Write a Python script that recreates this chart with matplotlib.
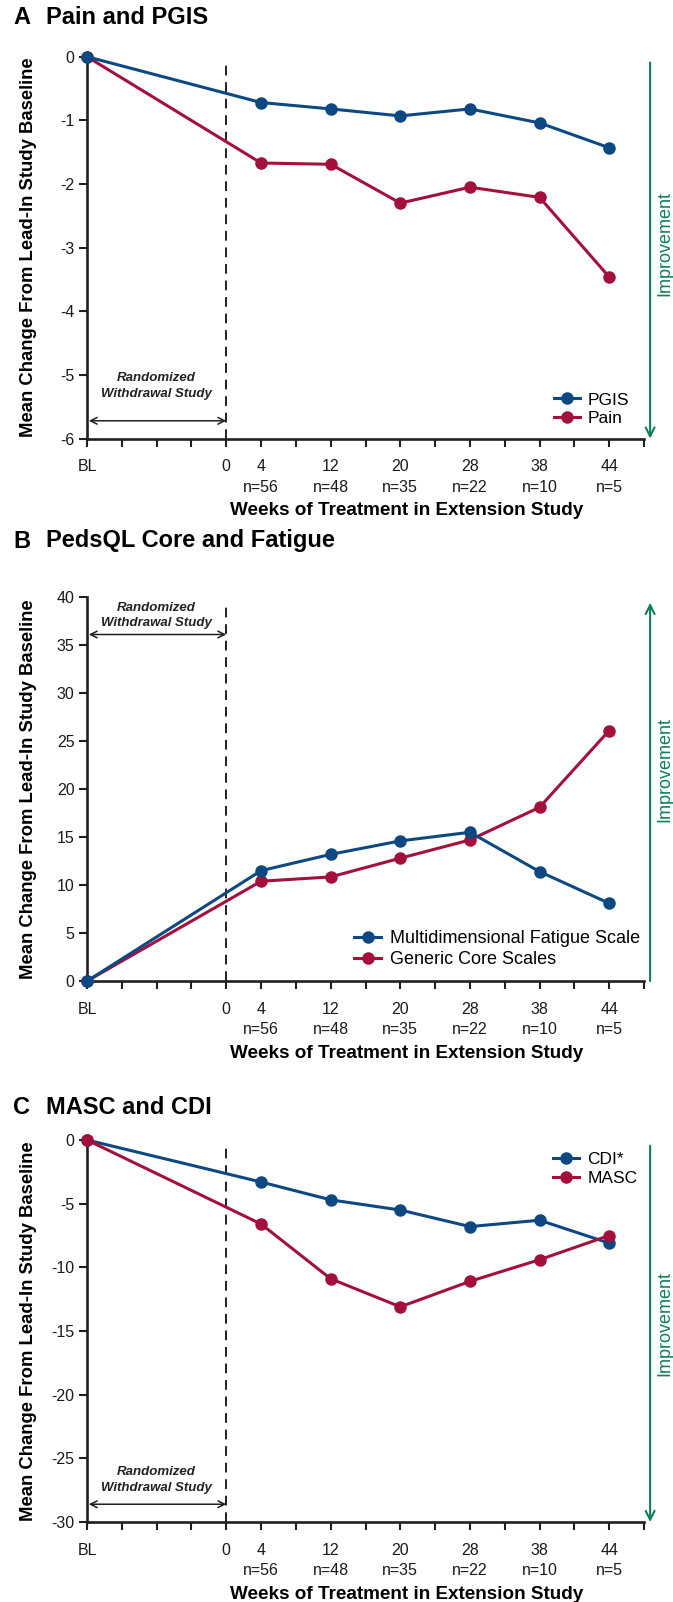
import matplotlib.pyplot as plt

plt.rcParams['font.family'] = ['Liberation Sans', 'DejaVu Sans']
plt.rcParams['axes.unicode_minus'] = False

# data
slots = [0, 5, 7, 9, 11, 13, 15]          # BL, week 4, 12, 20, 28, 38, 44
tick_labels = ['BL', '', '', '', '0', '4\nn=56', '', '12\nn=48', '', '20\nn=35', '',
               '28\nn=22', '', '38\nn=10', '', '44\nn=5', '']

pgis = [0, -0.72, -0.82, -0.93, -0.82, -1.04, -1.43]
pain = [0, -1.67, -1.69, -2.30, -2.05, -2.21, -3.46]

fatigue = [0, 11.5, 13.2, 14.6, 15.5, 11.4, 8.1]
core = [0, 10.4, 10.85, 12.8, 14.7, 18.1, 26.1]

cdi = [0, -3.3, -4.7, -5.5, -6.8, -6.3, -8.1]
masc = [0, -6.6, -10.9, -13.1, -11.1, -9.4, -7.5]

blue = '#0E4883'
red = '#A3103C'
green = '#0F7E5A'
dark = '#231F20'

fig = plt.figure(figsize=(6.73, 16.02), dpi=100)

panels = [
    dict(letter='A', title='Pain and PGIS', rect=[0.1293, 0.7262, 0.8276, 0.2384],
         ylim=(-6, 0), yticks=list(range(0, -7, -1)),
         series=[('PGIS', pgis, blue), ('Pain', pain, red)], red_top=False,
         rw_y=(-5.04, -5.30, -5.72), arrow_down=True, impr_y=0.51,
         leg=dict(loc='lower right', bbox_to_anchor=(0.995, 0.0)), leg_size=12.5,
         title_y=18),
    dict(letter='B', title='PedsQL Core and Fatigue', rect=[0.1293, 0.3876, 0.8276, 0.2397],
         ylim=(0, 40), yticks=list(range(0, 41, 5)),
         series=[('Multidimensional Fatigue Scale', fatigue, blue), ('Generic Core Scales', core, red)],
         red_top=False, rw_y=(38.9, 37.3, 36.1), arrow_down=False, impr_y=0.55,
         leg=dict(loc='lower right', bbox_to_anchor=(1.015, 0.0)), leg_size=13,
         title_y=541),
    dict(letter='C', title='MASC and CDI', rect=[0.1293, 0.0499, 0.8276, 0.2385],
         ylim=(-30, 0), yticks=list(range(0, -31, -5)),
         series=[('CDI*', cdi, blue), ('MASC', masc, red)], red_top=True,
         rw_y=(-26.1, -27.3, -28.6), arrow_down=True, impr_y=0.52,
         leg=dict(loc='upper right', bbox_to_anchor=(1.01, 1.0)), leg_size=12.5,
         title_y=1108),
]

for p in panels:
    ax = fig.add_axes(p['rect'])
    ax.set_xlim(0, 16)
    ax.set_ylim(*p['ylim'])

    handles = {}
    order = p['series'] if p['red_top'] else p['series'][::-1]
    for name, vals, col in order:
        h, = ax.plot(slots, vals, color=col, lw=2.2, marker='o', markersize=8,
                     clip_on=False, zorder=3, label=name)
        handles[name] = h

    ax.axvline(4, ymin=0, ymax=0.99, color=dark, lw=1.4, ls=(0, (5, 3.5)), zorder=2)

    for s in ['top', 'right']:
        ax.spines[s].set_visible(False)
    for s in ['left', 'bottom']:
        ax.spines[s].set_color(dark)
        ax.spines[s].set_linewidth(1.9)

    ax.set_xticks(range(17))
    ax.set_xticklabels(tick_labels)
    ax.set_yticks(p['yticks'])
    ax.tick_params(axis='both', direction='out', length=6, width=1.5, color=dark,
                   labelsize=11.5, labelcolor='#1a1a1a')
    ax.tick_params(axis='x', pad=9)
    ax.tick_params(axis='y', pad=3)
    for t in ax.get_xticklabels():
        t.set_linespacing(1.45)

    ax.set_ylabel('Mean Change From Lead-In Study Baseline', fontsize=13.3,
                  fontweight='bold')
    ax.yaxis.set_label_coords(-0.105, 0.5)
    ax.yaxis.label.set_va('center')

    ax.annotate('Weeks of Treatment in Extension Study', xy=(0.574, 0),
                xycoords='axes fraction', xytext=(0, -72), textcoords='offset pixels',
                ha='center', va='center', fontsize=13.6, fontweight='bold')

    # randomized withdrawal study marker
    t1, t2, ya = p['rw_y']
    ax.text(2, t1, 'Randomized', ha='center', va='center', fontsize=9.5,
            style='italic', fontweight='bold', color='#222222')
    ax.text(2, t2, 'Withdrawal Study', ha='center', va='center', fontsize=9.5,
            style='italic', fontweight='bold', color='#222222')
    ax.annotate('', xy=(4, ya), xytext=(0.05, ya),
                arrowprops=dict(arrowstyle='<->', color=dark, lw=1.1,
                                mutation_scale=12, shrinkA=0, shrinkB=0))

    # improvement arrow
    if p['arrow_down']:
        a_from, a_to = 0.985, 0.0
    else:
        a_from, a_to = 0.0, 0.985
    ax.annotate('', xy=(1.011, a_to), xytext=(1.011, a_from), xycoords='axes fraction',
                arrowprops=dict(arrowstyle='->', color=green, lw=1.5,
                                mutation_scale=16, shrinkA=0, shrinkB=0),
                annotation_clip=False)
    ax.text(1.038, p['impr_y'], 'Improvement', transform=ax.transAxes, rotation=90,
            ha='center', va='center', fontsize=13, color=green)

    names_order = [s[0] for s in p['series']]
    ax.legend([handles[n] for n in names_order], names_order, frameon=False,
              handlelength=1.5, handletextpad=0.45, labelspacing=0.22,
              borderaxespad=0.3, fontsize=p['leg_size'], **p['leg'])

    fig.text(13 / 673, 1 - p['title_y'] / 1602, p['letter'], ha='left', va='center',
             fontsize=17, fontweight='bold')
    fig.text(46 / 673, 1 - p['title_y'] / 1602, p['title'], ha='left', va='center',
             fontsize=17, fontweight='bold')

fig.savefig('out.png', dpi=100)
